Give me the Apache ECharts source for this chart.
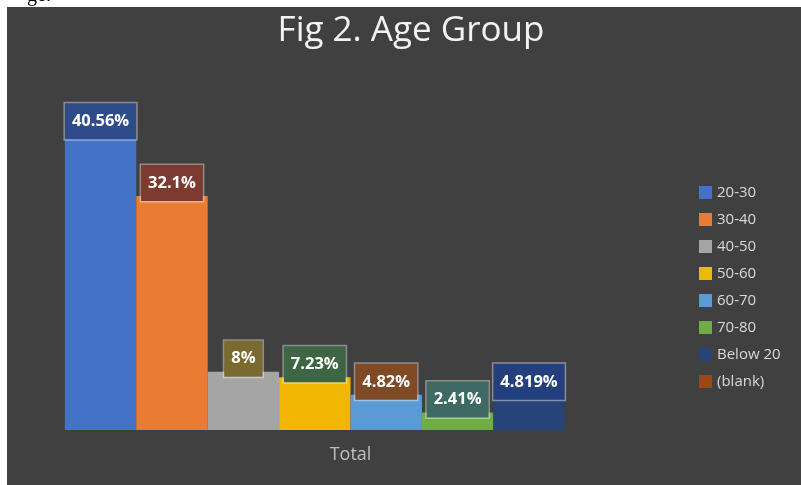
<!DOCTYPE html>
<html>
<head>
<meta charset="utf-8">
<script src="https://cdn.jsdelivr.net/npm/echarts@6/dist/echarts.min.js"></script>
<style>
  html, body { margin: 0; padding: 0; background: #ffffff; }
  #chart { width: 801px; height: 485px; }
</style>
</head>
<body>
<div id="chart"></div>
<script>
// data
var categories = ["Total"];
var groups = ["20-30", "30-40", "40-50", "50-60", "60-70", "70-80", "Below 20", "(blank)"];
var values = [40.56, 32.1, 8, 7.23, 4.82, 2.41, 4.819, null];

// styling
var barColors = ["#4472c4", "#e97b32", "#a5a5a5", "#f2b705", "#5b9bd5", "#70ad47", "#264478", "#9e480e"];
var labelFills = ["#2f4c8a", "#7d3a2f", "#7a6a30", "#3f6644", "#7f4a26", "#3f6a64", "#243f7d", "#6b3210"];

var chart = echarts.init(document.getElementById("chart"));

var series = groups.map(function (name, i) {
  return {
    name: name,
    type: "bar",
    barGap: "0%",
    barCategoryGap: "16.6%",
    itemStyle: { color: barColors[i] },
    label: {
      show: values[i] != null,
      position: "top",
      distance: 0,
      offset: [0, 5],
      formatter: function (p) {
        return p.value + "%";
      },
      color: "#ffffff",
      fontFamily: "Open Sans",
      fontWeight: "bold",
      fontSize: 16.5,
      lineHeight: 16,
      padding: [10, 7],
      backgroundColor: labelFills[i],
      borderColor: "rgba(255,255,255,0.4)",
      borderWidth: 1.5,
    },
    data: [values[i]],
  };
});

var option = {
  animation: false,
  backgroundColor: "#ffffff",
  graphic: [
    {
      type: "text",
      left: 27,
      top: -14,
      z: 0,
      style: {
        text: "ge.",
        fontFamily: "Liberation Serif",
        fontSize: 20,
        fill: "#000000",
      },
    },
    {
      type: "rect",
      left: 7,
      top: 7,
      z: 1,
      shape: { width: 794, height: 478 },
      style: { fill: "#404040" },
    },
  ],
  title: {
    text: "Fig 2. Age Group",
    left: 406,
    top: 9,
    textAlign: "center",
    z: 10,
    textStyle: {
      color: "#f2f2f2",
      fontFamily: "Open Sans",
      fontWeight: "normal",
      fontSize: 35,
    },
  },
  legend: {
    orient: "vertical",
    left: 694,
    top: 180,
    icon: "rect",
    itemWidth: 13,
    itemHeight: 13,
    itemGap: 12,
    z: 10,
    data: groups,
    textStyle: {
      color: "#d9d9d9",
      fontFamily: "Open Sans",
      fontSize: 15,
    },
  },
  grid: {
    left: 8,
    right: 108,
    top: 102,
    bottom: 55,
    containLabel: false,
  },
  xAxis: {
    type: "category",
    data: categories,
    axisLine: { show: false },
    axisTick: { show: false },
    axisLabel: {
      color: "#bfbfbf",
      fontFamily: "Open Sans",
      fontSize: 18,
      margin: 16,
    },
    z: 10,
  },
  yAxis: {
    type: "value",
    min: 0,
    max: 45,
    show: false,
    splitLine: { show: false },
  },
  series: series,
};

chart.setOption(option);
</script>
</body>
</html>
